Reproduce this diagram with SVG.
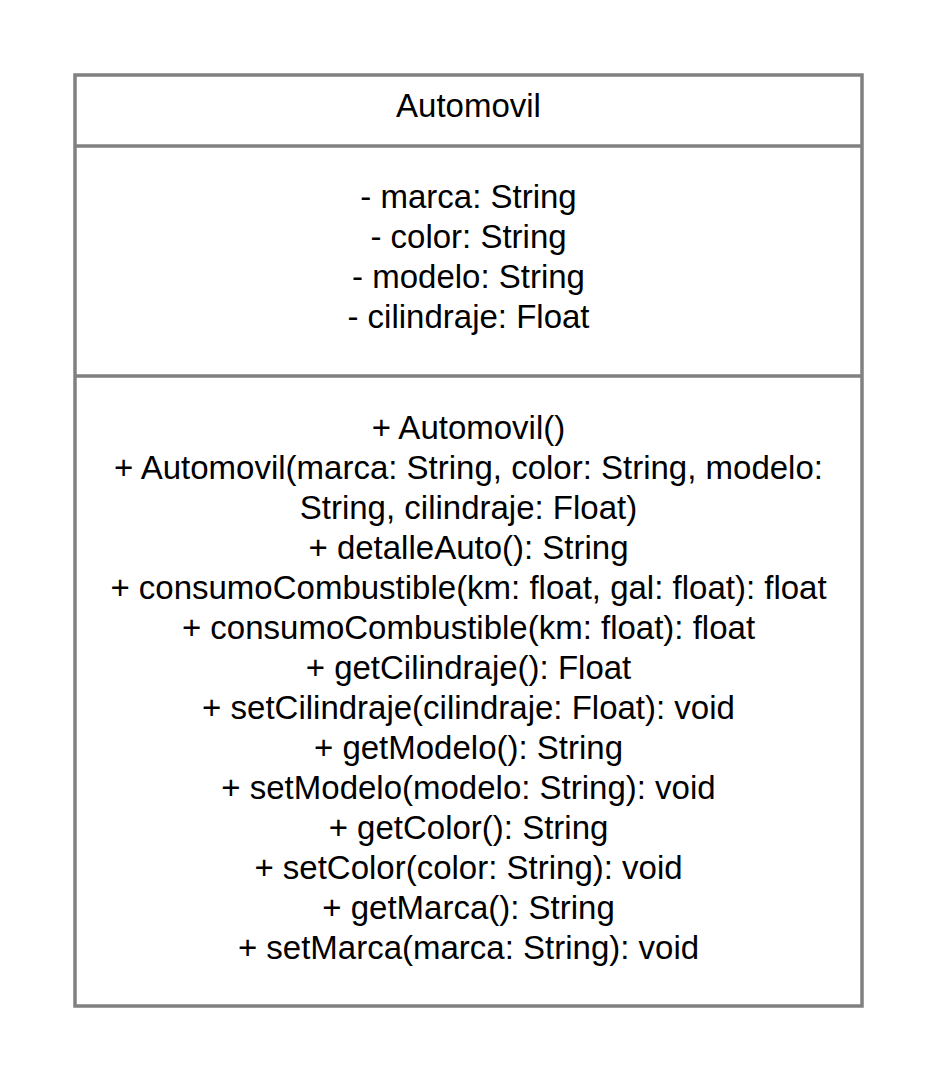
<svg xmlns="http://www.w3.org/2000/svg" width="938" height="1082" viewBox="0 0 938 1082">
<style>
.box{fill:#ffffff;stroke:#808080;stroke-width:3.5}
.div{stroke:#808080;stroke-width:3.5}
text{font-family:"Liberation Sans",Arial,sans-serif;font-size:33px;fill:#000000;text-anchor:middle}
</style>
<rect width="938" height="1082" fill="#ffffff"/>
<g id="automovil">
<rect class="box" x="75" y="75" width="787" height="931"/>
<line class="div" x1="75" y1="146" x2="862" y2="146"/>
<line class="div" x1="75" y1="376" x2="862" y2="376"/>
<text x="468.5" y="116.5">Automovil</text>
<text x="468.5" y="207.5">- marca: String</text>
<text x="468.5" y="247.5">- color: String</text>
<text x="468.5" y="287.5">- modelo: String</text>
<text x="468.5" y="327.5">- cilindraje: Float</text>
<text x="468.5" y="438.5">+ Automovil()</text>
<text x="468.5" y="478.5">+ Automovil(marca: String, color: String, modelo:</text>
<text x="468.5" y="518.5">String, cilindraje: Float)</text>
<text x="468.5" y="558.5">+ detalleAuto(): String</text>
<text x="468.5" y="598.5">+ consumoCombustible(km: float, gal: float): float</text>
<text x="468.5" y="638.5">+ consumoCombustible(km: float): float</text>
<text x="468.5" y="678.5">+ getCilindraje(): Float</text>
<text x="468.5" y="718.5">+ setCilindraje(cilindraje: Float): void</text>
<text x="468.5" y="758.5">+ getModelo(): String</text>
<text x="468.5" y="798.5">+ setModelo(modelo: String): void</text>
<text x="468.5" y="838.5">+ getColor(): String</text>
<text x="468.5" y="878.5">+ setColor(color: String): void</text>
<text x="468.5" y="918.5">+ getMarca(): String</text>
<text x="468.5" y="958.5">+ setMarca(marca: String): void</text>
</g>
<g id="connectors"/>
</svg>
